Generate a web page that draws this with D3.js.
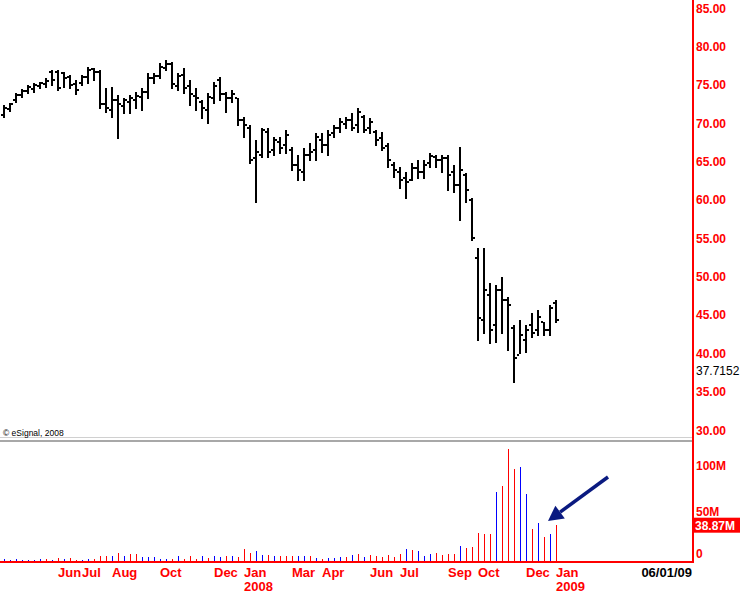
<!DOCTYPE html>
<html><head><meta charset="utf-8">
<script src="https://cdn.jsdelivr.net/npm/d3@7"></script>
<style>body{margin:0;background:#fff}svg{display:block}</style>
</head><body>
<svg id="c" width="740" height="594"></svg>
<script>
// Weekly OHLC bars (index 0 = first week shown)
const highs = [72.36,72.62,73.92,74.44,74.96,75.22,75.35,75.88,76.92,76.92,76.66,76.27,75.62,76.27,77.31,77.18,76.92,74.57,74.70,73.66,73.27,73.66,74.05,74.57,76.53,76.53,77.83,78.22,77.96,76.53,77.18,75.62,74.57,73.01,73.92,75.35,76.01,74.05,74.31,73.27,70.79,69.75,67.80,69.36,69.36,68.19,68.19,69.10,66.88,65.84,66.75,67.41,68.71,68.71,69.10,69.75,70.66,70.79,71.32,71.97,71.05,70.66,69.10,68.84,67.41,64.93,64.28,63.63,64.80,65.19,65.19,66.10,65.84,65.84,65.84,64.54,66.88,63.50,60.24,53.72,53.72,49.16,48.90,49.94,47.33,43.68,44.34,43.68,45.25,45.64,44.08,46.29,46.94];
const lows = [70.79,71.58,72.75,73.40,73.92,74.05,74.57,74.70,74.96,74.31,74.70,74.57,73.79,74.96,75.22,75.62,71.97,71.45,70.79,68.06,71.32,71.32,71.97,71.71,73.27,75.22,75.88,76.92,74.57,74.31,73.92,72.36,71.71,70.66,70.01,72.62,73.01,71.45,72.75,69.75,68.19,64.80,59.72,65.58,65.58,65.84,66.10,66.10,63.89,62.58,62.58,65.19,65.19,66.23,65.84,68.19,68.84,69.36,69.10,68.84,68.84,68.71,67.14,66.49,64.28,62.97,61.54,60.24,62.58,62.84,62.84,64.28,64.28,63.63,61.28,61.02,57.37,59.72,54.76,41.73,42.64,41.34,41.47,42.64,40.43,36.26,40.04,40.17,42.12,42.38,42.38,42.38,44.08];
const opens = [71.05,71.84,73.01,73.66,74.18,74.44,74.83,75.09,76.66,76.66,76.53,76.01,75.09,75.22,76.01,77.05,76.66,72.49,71.71,73.01,72.23,72.75,73.01,73.40,74.05,75.88,76.14,77.18,77.70,74.83,76.27,74.83,73.53,72.75,71.71,73.27,75.62,73.79,73.27,73.27,70.40,69.36,65.45,65.84,68.84,66.49,67.54,67.14,66.49,64.54,63.63,65.84,66.49,67.80,67.14,68.71,69.36,69.88,70.40,69.75,70.79,69.36,68.84,68.06,67.01,64.54,63.63,62.84,62.58,64.15,63.63,64.80,65.58,65.19,65.45,63.63,61.93,63.24,59.98,52.42,44.34,47.60,43.68,48.25,46.94,43.29,39.77,41.73,43.68,43.03,44.08,43.03,46.55];
const closes = [71.97,72.49,73.66,74.18,74.70,74.96,75.22,75.49,75.62,74.57,75.88,74.96,74.31,76.01,76.92,76.66,72.49,71.97,73.01,72.49,73.01,73.27,73.53,74.05,75.88,76.14,77.31,77.70,75.09,76.14,74.57,73.79,73.27,71.97,73.40,74.83,73.79,73.27,73.79,70.40,69.75,65.19,66.23,69.10,66.23,67.80,66.75,68.45,64.54,63.89,65.84,66.23,68.19,67.14,68.45,69.36,70.14,70.40,69.36,71.45,69.10,70.14,67.80,66.75,65.19,63.89,62.58,62.32,64.15,63.63,64.54,65.71,65.19,65.45,63.24,61.93,63.89,61.28,55.02,44.60,48.25,43.03,48.25,46.94,46.29,39.38,42.38,43.03,42.64,44.73,43.03,45.90,44.34];
// Weekly volume, millions, and bar colour (b = blue, r = red)
const volumes = [2.9,2.1,2.9,2.1,2.1,2.1,2.9,2.9,2.1,3.9,3.2,3.9,2.1,2.1,2.5,3.2,5.4,6.4,6.1,8.6,5.4,8.2,7.5,4.6,5.0,4.6,3.2,3.2,3.2,5.4,3.2,5.4,3.2,5.4,3.9,5.4,4.6,5.4,5.4,4.6,13.5,8.9,11.4,7.1,6.8,6.1,6.1,6.1,6.1,6.1,6.1,6.1,3.9,3.2,3.9,3.9,5.0,5.0,7.1,8.2,4.3,6.8,6.0,5.0,6.8,5.0,8.2,13.5,12.5,11.4,6.0,8.2,8.9,7.1,8.2,8.2,16.8,14.6,15.7,30.7,29.6,29.6,74.6,81.0,120.6,99.0,101.0,72.5,35.0,41.4,26.4,29.6,38.87];
const volColors = "bbbbbbbrbr" + "brrbbrrrbr" + "brrbbbbbrb" + "rrrbrbbrbr" + "rrbbrbrrrb" +
                  "brbrbbbrbr" + "brrrrrrbrb" + "bbrrrrbrrr" + "rrbrrrbbrb" + "rbr";
// Axes / labels
const priceTicks = [30,35,40,45,50,55,60,65,70,75,80,85];
const volTicks = [0,50,100];
const monthLabels = ["Jun","Jul","Aug","Oct","Dec","Jan","Mar","Apr","Jun","Jul","Sep","Oct","Dec","Jan"];
const monthIndex = [9,13,18,26,35,40,48,53,61,66,74,79,87,92];
const yearLabels = ["2008","2009"];
const yearIndex = [40,92];
const markerPrice = 37.7152;
const lastVolume = 38.87;
const dateLabel = "06/01/09";
const copyright = "\u00A9 eSignal, 2008";

const svg = d3.select("#c");
const FONT = "'Liberation Sans', Arial, sans-serif";
const axisX = 693;
const x = d3.scaleLinear().domain([0, 92]).range([4, 556]);
const y = d3.scaleLinear().domain([30, 85]).range([430, 8]);
const v = d3.scaleLinear().domain([0, 100]).range([561.5, 468.1]);

svg.append("rect").attr("width",740).attr("height",594).attr("fill","#fff");

// pane separator
svg.append("rect").attr("x",0).attr("y",437).attr("width",axisX).attr("height",1).attr("fill","#d0d0d0");
svg.append("rect").attr("x",0).attr("y",440).attr("width",axisX).attr("height",2).attr("fill","#a8a8a8");

// copyright
svg.append("text").attr("x",3).attr("y",436).attr("font-family",FONT).attr("font-size",8.5)
  .attr("fill","#000").text(copyright);

// OHLC bars
const idx = d3.range(highs.length);
const g = svg.append("g").attr("fill","#000").attr("shape-rendering","crispEdges");
g.selectAll(".stick").data(idx).join("rect")
  .attr("x", i => Math.round(x(i)) - 1).attr("width", 2)
  .attr("y", i => Math.round(y(highs[i])))
  .attr("height", i => Math.max(2, Math.round(y(lows[i])) - Math.round(y(highs[i])) + 1));
g.selectAll(".open").data(idx).join("rect")
  .attr("x", i => Math.round(x(i)) - 3).attr("width", 2)
  .attr("y", i => Math.round(y(opens[i])) - 1).attr("height", 2);
g.selectAll(".close").data(idx).join("rect")
  .attr("x", i => Math.round(x(i)) + 1).attr("width", 2)
  .attr("y", i => Math.round(y(closes[i])) - 1).attr("height", 2);

// volume bars
svg.append("g").attr("shape-rendering","crispEdges").selectAll("rect").data(idx).join("rect")
  .attr("x", i => Math.round(x(i))).attr("width", 1)
  .attr("y", i => Math.round(v(volumes[i])))
  .attr("height", i => Math.round(v(0)) - Math.round(v(volumes[i])))
  .attr("fill", i => volColors[i] === "r" ? "#ff0000" : "#0000ff");

// baseline and right axis
svg.append("rect").attr("x",0).attr("y",561).attr("width",axisX+1).attr("height",2).attr("fill","#ff0000");
svg.append("rect").attr("x",axisX-1).attr("y",0).attr("width",2).attr("height",563).attr("fill","#ff0000");

// price labels
svg.append("g").selectAll("text").data(priceTicks).join("text")
  .attr("x", axisX + 3).attr("y", d => y(d) + 4.5)
  .attr("font-family",FONT).attr("font-size",12).attr("font-weight","bold").attr("fill","#ff0000")
  .text(d => d.toFixed(2));
svg.append("text").attr("x", axisX + 3).attr("y", y(markerPrice) + 4.5)
  .attr("font-family",FONT).attr("font-size",12).attr("fill","#000")
  .text(markerPrice.toFixed(4));

// volume labels
svg.append("g").selectAll("text").data(volTicks).join("text")
  .attr("x", axisX + 3).attr("y", d => (d === 0 ? v(d) - 8 : v(d) - 3) + 4.5)
  .attr("font-family",FONT).attr("font-size",12).attr("font-weight","bold").attr("fill","#ff0000")
  .text(d => d === 0 ? "0" : d + "M");
const vy = v(lastVolume);
svg.append("rect").attr("x", axisX).attr("y", vy - 7.5).attr("width", 740 - axisX).attr("height", 15).attr("fill","#ff0000");
svg.append("text").attr("x", axisX + 2).attr("y", vy + 4.5)
  .attr("font-family",FONT).attr("font-size",12).attr("font-weight","bold").attr("fill","#fff")
  .text(lastVolume.toFixed(2) + "M");

// month / year labels
svg.append("g").selectAll("text").data(monthLabels).join("text")
  .attr("x", (d,i) => x(monthIndex[i])).attr("y", 576.5)
  .attr("font-family",FONT).attr("font-size",13).attr("font-weight","bold").attr("fill","#ff0000")
  .text(d => d);
svg.append("g").selectAll("text").data(yearLabels).join("text")
  .attr("x", (d,i) => x(yearIndex[i])).attr("y", 591)
  .attr("font-family",FONT).attr("font-size",13).attr("font-weight","bold").attr("fill","#ff0000")
  .text(d => d);
svg.append("text").attr("x", axisX - 1).attr("y", 576.5).attr("text-anchor","end")
  .attr("font-family",FONT).attr("font-size",13).attr("font-weight","bold").attr("fill","#000")
  .text(dateLabel);

// annotation arrow
const tail = [608, 477], tip = [548, 521];
const dx = tip[0]-tail[0], dy = tip[1]-tail[1], len = Math.hypot(dx,dy);
const ux = dx/len, uy = dy/len, hl = 15, hw = 8;
const bx = tip[0]-ux*hl, by = tip[1]-uy*hl;
svg.append("line").attr("x1",tail[0]).attr("y1",tail[1]).attr("x2",bx).attr("y2",by)
  .attr("stroke","#0a1a80").attr("stroke-width",3.5);
svg.append("path").attr("fill","#0a1a80")
  .attr("d", `M${tip[0]},${tip[1]}L${bx-uy*hw},${by+ux*hw}L${bx+uy*hw},${by-ux*hw}Z`);
</script>
</body></html>
